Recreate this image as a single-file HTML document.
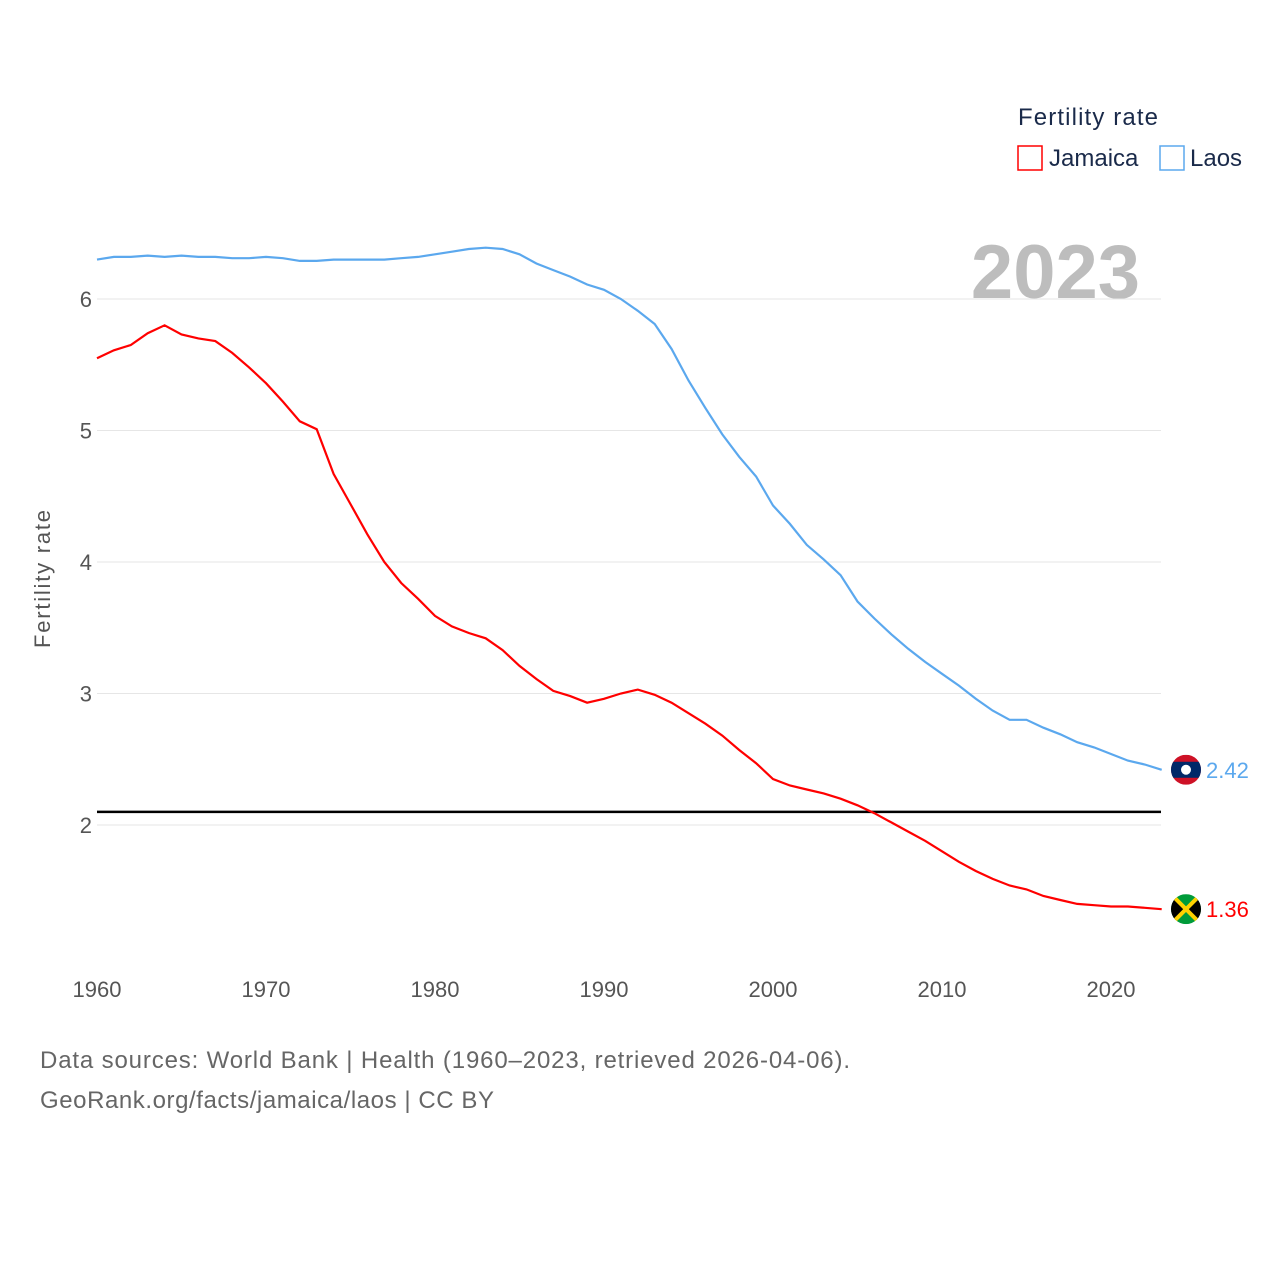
<!DOCTYPE html>
<html><head><meta charset="utf-8"><style>
body{margin:0;background:#fff;}
svg text{font-family:"Liberation Sans",sans-serif;}
</style></head><body>
<svg id="chart" width="1280" height="1280" xmlns="http://www.w3.org/2000/svg">
<text x="1018" y="125" font-size="24" fill="#1a2a4a" textLength="140">Fertility rate</text>
<g><rect x="1018" y="146" width="24" height="24" fill="none" stroke="#ff0000" stroke-width="1.5"/><text x="1049" y="166" font-size="24" fill="#1a2a4a">Jamaica</text></g>
<g><rect x="1160" y="146" width="24" height="24" fill="none" stroke="#5ba8ee" stroke-width="1.5"/><text x="1190" y="166" font-size="24" fill="#1a2a4a">Laos</text></g>
<text x="1140" y="298" font-size="76" font-weight="bold" fill="#bdbdbd" text-anchor="end">2023</text>
<text transform="translate(50,579) rotate(-90)" font-size="22" fill="#555" text-anchor="middle" textLength="138">Fertility rate</text>
<g id="grid"></g><g id="lines"></g><g id="marks"></g>
<text x="40" y="1068" font-size="24" fill="#666" textLength="810">Data sources: World Bank | Health (1960–2023, retrieved 2026-04-06).</text>
<text x="40" y="1108" font-size="24" fill="#666" textLength="454">GeoRank.org/facts/jamaica/laos | CC BY</text>
</svg>
<script>
const years=[];for(let y=1960;y<=2023;y++)years.push(y);
const laos=[6.30,6.32,6.32,6.33,6.32,6.33,6.32,6.32,6.31,6.31,6.32,6.31,6.29,6.29,6.30,6.30,6.30,6.30,6.31,6.32,6.34,6.36,6.38,6.39,6.38,6.34,6.27,6.22,6.17,6.11,6.07,6.00,5.91,5.81,5.62,5.38,5.17,4.97,4.80,4.65,4.43,4.29,4.13,4.02,3.90,3.70,3.57,3.45,3.34,3.24,3.15,3.06,2.96,2.87,2.80,2.80,2.74,2.69,2.63,2.59,2.54,2.49,2.46,2.42];
const jamaica=[5.55,5.61,5.65,5.74,5.80,5.73,5.70,5.68,5.59,5.48,5.36,5.22,5.07,5.01,4.67,4.44,4.21,4.00,3.84,3.72,3.59,3.51,3.46,3.42,3.33,3.21,3.11,3.02,2.98,2.93,2.96,3.00,3.03,2.99,2.93,2.85,2.77,2.68,2.57,2.47,2.35,2.30,2.27,2.24,2.20,2.15,2.09,2.02,1.95,1.88,1.80,1.72,1.65,1.59,1.54,1.51,1.46,1.43,1.40,1.39,1.38,1.38,1.37,1.36];
const yTicks=[2,3,4,5,6];
const xTicks=[1960,1970,1980,1990,2000,2010,2020];
const refLine=2.1;
const X=v=>97+(v-1960)*(1111-97)/60;
const Y=v=>299-(v-6)*131.5;
const NS='http://www.w3.org/2000/svg';
function mk(t,a,p){const e=document.createElementNS(NS,t);for(const k in a)e.setAttribute(k,a[k]);p.appendChild(e);return e;}
const grid=document.getElementById('grid'),lines=document.getElementById('lines'),marks=document.getElementById('marks');
yTicks.forEach(t=>{const l=mk('line',{x1:97,x2:1161,y1:Y(t),y2:Y(t),stroke:'#e6e6e6','stroke-width':1},grid);


const tx=mk('text',{x:92,y:Y(t)+8,'font-size':22,fill:'#555','text-anchor':'end'},grid);tx.textContent=t;

});
xTicks.forEach(t=>{const tx=mk('text',{x:X(t),y:997,'font-size':22,fill:'#555','text-anchor':'middle'},grid);tx.textContent=t;

});
const rl=mk('line',{x1:97,x2:1161,y1:Y(refLine),y2:Y(refLine),stroke:'#000','stroke-width':2.5},lines);


function series(vals,color,name){
const d=vals.map((v,i)=>(i?'L':'M')+X(years[i]).toFixed(1)+' '+Y(v).toFixed(1)).join(' ');
const p=mk('path',{d:d,fill:'none',stroke:color,'stroke-width':2.2},lines);


const lv=vals[vals.length-1],cy=Y(lv);
const t=mk('text',{x:1206,y:cy+8,'font-size':22,fill:color},marks);t.textContent=lv.toFixed(2);


const g=mk('g',{},marks);


return {g,cy};}
const l=series(laos,'#5ba8ee','laos');
mk('defs',{},l.g).innerHTML='<clipPath id="cl"><circle cx="1186" cy="'+l.cy+'" r="15"/></clipPath><clipPath id="cj"><circle cx="1186" cy="'+Y(jamaica[63])+'" r="15"/></clipPath>';
const lf=mk('g',{'clip-path':'url(#cl)'},l.g);
mk('rect',{x:1171,y:l.cy-15,width:30,height:30,fill:'#ce1126'},lf);
mk('rect',{x:1171,y:l.cy-8,width:30,height:16,fill:'#002868'},lf);
mk('circle',{cx:1186,cy:l.cy,r:5,fill:'#fff'},lf);
const j=series(jamaica,'#ff0000','jamaica');
const jf=mk('g',{'clip-path':'url(#cj)'},j.g);const c=j.cy;
mk('rect',{x:1171,y:c-15,width:30,height:30,fill:'#009b3a'},jf);
mk('polygon',{points:`1171,${c-15} 1186,${c} 1171,${c+15}`,fill:'#000'},jf);
mk('polygon',{points:`1201,${c-15} 1186,${c} 1201,${c+15}`,fill:'#000'},jf);
mk('line',{x1:1171,y1:c-15,x2:1201,y2:c+15,stroke:'#fed100','stroke-width':4},jf);
mk('line',{x1:1201,y1:c-15,x2:1171,y2:c+15,stroke:'#fed100','stroke-width':4},jf);
</script>
</body></html>
